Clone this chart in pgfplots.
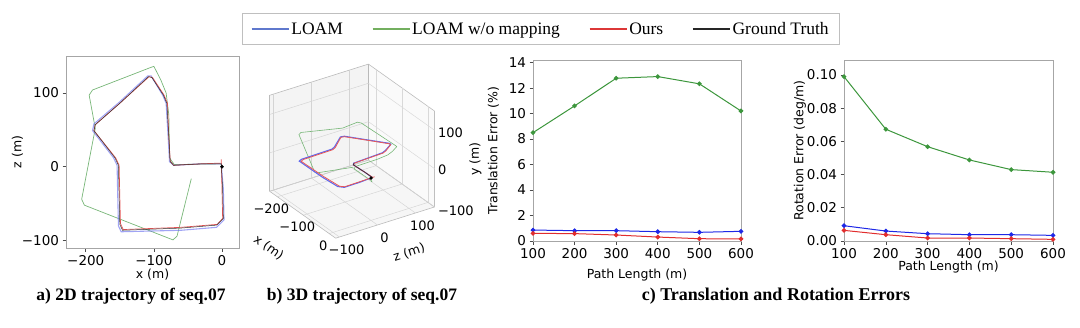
\documentclass[border=0pt]{standalone}
\usepackage{fontspec}
\setmainfont{Liberation Serif}
\newfontfamily\dejavu{DejaVu Sans}
\usepackage{pgfplots}
\pgfplotsset{compat=1.18}
\definecolor{cblue}{RGB}{30,40,230}
\definecolor{cgreen}{RGB}{60,150,60}
\definecolor{cred}{RGB}{225,45,45}
\definecolor{lblue}{RGB}{95,120,205}
\definecolor{lgreen}{RGB}{115,175,95}
\definecolor{lred}{RGB}{220,55,55}
\pgfplotsset{
  base/.style={scale only axis, axis line style={black!35, line width=0.8pt},
    tick style={black!70, line width=0.6pt}, tick align=outside, major tick length=3.5pt,
    xtick pos=bottom, ytick pos=left,
    ticklabel style={font=\dejavu\fontsize{13.5}{14}\selectfont},
    label style={font=\dejavu\fontsize{12.5}{13}\selectfont},
    /pgf/number format/assume math mode=true},
}
\begin{document}
\begin{tikzpicture}[x=1pt,y=1pt]
\path[use as bounding box] (0,0) rectangle (1080,-327);

% ---------- panel a
\begin{axis}[base, at={(66pt,-248pt)}, anchor=south west, width=173pt, height=192pt,
  xmin=-229, xmax=25, ymin=-110, ymax=150,
  xtick={-200,-100,0}, xticklabels={−200,−100,0},
  ytick={-100,0,100}, yticklabels={−100,0,100},
  xlabel={x (m)}, ylabel={z (m)},
  xlabel style={yshift=3pt}, ylabel style={yshift=-8pt}]
\addplot[cgreen!70, line width=0.7pt] coordinates {
(0,0) (-2,4) (-70,3) (-77,12) (-78,70) (-82,100) (-90,118) (-100,136) (-106,134)
(-190,104) (-195,97) (-186,52) (-206,-44) (-202,-52) (-72,-99) (-66,-94) (-45,-16)};
\addplot[cblue!60, line width=1.1pt, opacity=0.7] coordinates {
(0,0) (-1,4) (-30,4) (-71,2) (-77,7) (-79,40) (-82,86) (-87,97) (-104,123) (-109,123)
(-150,88) (-188,58) (-190,49) (-159,12) (-154,2) (-153,-40) (-152,-80) (-148,-88)
(-60,-86) (-8,-82) (3,-72) (2,-30) (-1,2)};
\addplot[cred!80, line width=0.7pt] coordinates {
(0,0) (-1,5) (-30,4) (-71,2) (-76,8) (-78,40) (-80,86) (-85,97) (-102,121) (-107,122)
(-150,86) (-186,57) (-188,49) (-156,12) (-151,2) (-150,-40) (-149,-77) (-145,-85)
(-60,-82) (-7,-78) (1,-70) (0,-30) (-1,10)};
\addplot[black!80, line width=0.5pt] coordinates {
(0,0) (-1,4) (-30,4) (-71,2) (-76,7) (-78,40) (-81,86) (-86,97) (-103,121) (-108,122)
(-150,86) (-186,57) (-188,49) (-157,12) (-152,2) (-151,-40) (-150,-78) (-146,-86)
(-60,-83) (-8,-79) (2,-70) (1,-30) (-1,2)};
\addplot[only marks, mark=*, mark size=1.6pt, black] coordinates {(0,0)};
\end{axis}

% ---------- panel b (3D)
\begin{axis}[at={(371pt,-182pt)}, anchor=origin,
  x={(0.259pt,-0.184pt)}, y={(0.38pt,0.12pt)}, z={(0pt,0.384pt)},
  grid=major, grid style={black!13, line width=0.5pt},
  axis line style={black!25, line width=0.6pt},
  xmin=-230, xmax=25, ymin=-110, ymax=150, zmin=-100, zmax=150,
  xtick={-200,-100,0}, xticklabels={−200,−100,0},
  ytick={-100,0,100}, yticklabels={−100,0,100},
  ztick={-100,0,100}, zticklabels={−100,0,100},
  ticklabel style={font=\dejavu\fontsize{13}{14}\selectfont},
  xticklabel style={anchor=center, xshift=-6pt, yshift=-12pt},
  yticklabel style={anchor=center, xshift=7pt, yshift=-13pt},
  xlabel={x (m)}, ylabel={z (m)}, zlabel={y (m)},
  every axis x label/.style={at={(rel axis cs:0.5,0,0)}, anchor=center, xshift=-34pt, yshift=-33pt, sloped like x axis, font=\dejavu\fontsize{12.5}{13}\selectfont},
  every axis y label/.style={at={(rel axis cs:1,0.5,0)}, anchor=center, xshift=24pt, yshift=-30pt, sloped like y axis, font=\dejavu\fontsize{12.5}{13}\selectfont},
  every axis z label/.style={at={(rel axis cs:1,1,0.5)}, anchor=center, xshift=41pt, rotate=90, font=\dejavu\fontsize{12.5}{13}\selectfont},
  zticklabel pos=right,
  tick style={draw=none}]
\addplot3[fill=black, fill opacity=0.035, draw=none] coordinates {
(-230,-110,-100) (25,-110,-100) (25,150,-100) (-230,150,-100) (-230,-110,-100)};
\addplot3[fill=black, fill opacity=0.045, draw=none] coordinates {
(-230,-110,-100) (-230,150,-100) (-230,150,150) (-230,-110,150) (-230,-110,-100)};
\addplot3[fill=black, fill opacity=0.02, draw=none] coordinates {
(-230,150,-100) (25,150,-100) (25,150,150) (-230,150,150) (-230,150,-100)};
\addplot3[cgreen!70, line width=0.6pt] coordinates {
(0,0,0) (-2,4,0) (-70,3,0) (-77,12,0) (-78,70,0) (-82,100,0) (-90,118,0) (-100,136,2) (-106,134,4)
(-190,104,30) (-195,97,32) (-186,52,35) (-206,-44,44) (-202,-52,43) (-72,-99,22) (-66,-94,22) (-45,-16,22)};
\addplot3[cblue!70, line width=1.1pt] coordinates {
(0,0,10) (-1,4,10) (-30,4,10) (-71,2,10) (-77,7,10) (-79,40,10) (-82,86,10) (-87,97,10) (-104,123,10) (-109,123,10)
(-150,88,11) (-188,58,11) (-190,49,11) (-159,12,11) (-154,2,11) (-153,-40,11) (-152,-80,11) (-148,-88,11)
(-60,-86,10) (-8,-82,10) (3,-72,10) (2,-30,10) (-1,2,10)};
\addplot3[cred!80, line width=0.8pt] coordinates {
(0,0,10) (-1,5,10) (-30,4,10) (-71,2,10) (-76,8,10) (-78,40,10) (-80,86,10) (-85,97,10) (-102,121,10) (-107,122,10)
(-150,86,11) (-186,57,11) (-188,49,11) (-156,12,11) (-151,2,11) (-150,-40,11) (-149,-77,11) (-145,-85,11)
(-60,-82,10) (-7,-78,10) (1,-70,10) (0,-30,10) (-1,10,10)};
\addplot3[black!80, line width=0.6pt] coordinates {
(0,0,10) (-1,4,10) (-30,4,10) (-71,2,10) (-76,7,10)};
\addplot3[only marks, mark=*, mark size=1.4pt, black] coordinates {(0,0,10)};
\end{axis}

% ---------- panel c1
\begin{axis}[base, at={(533pt,-241pt)}, anchor=south west, width=208pt, height=181pt,
  xmin=100, xmax=600, ymin=0, ymax=14.2,
  xtick={100,200,300,400,500,600}, ytick={0,2,4,6,8,10,12,14},
  xlabel={Path Length (m)}, ylabel={Translation Error (\%)},
  xlabel style={yshift=-4pt}, ylabel style={yshift=3pt},
  legend columns=4,
  legend style={at={(0.038,1.171)}, anchor=center, draw=black!25, line width=0.9pt,
    font=\fontsize{17.5}{18}\selectfont, inner xsep=9pt, inner ysep=7pt,
    /tikz/every even column/.append style={column sep=27pt}},
  legend image code/.code={\draw[#1, line width=1.3pt] (0pt,0pt) -- (37pt,0pt);},
  every axis plot/.append style={line width=1pt, mark=*, mark size=1.8pt}]
\addlegendimage{lblue}\addlegendentry{LOAM}
\addlegendimage{lgreen}\addlegendentry{LOAM w/o mapping}
\addlegendimage{lred}\addlegendentry{Ours}
\addlegendimage{black!85}\addlegendentry{Ground Truth}
\addplot[cblue, forget plot] coordinates {(100,0.86) (200,0.81) (300,0.81) (400,0.73) (500,0.68) (600,0.76)};
\addplot[cgreen, forget plot] coordinates {(100,8.5) (200,10.6) (300,12.77) (400,12.9) (500,12.33) (600,10.2)};
\addplot[cred, forget plot] coordinates {(100,0.6) (200,0.58) (300,0.47) (400,0.31) (500,0.18) (600,0.16)};
\end{axis}

% ---------- panel c2
\begin{axis}[base, at={(844pt,-241pt)}, anchor=south west, width=209pt, height=181pt,
  xmin=100, xmax=600, ymin=0, ymax=0.109,
  xtick={100,200,300,400,500,600}, ytick={0,0.02,0.04,0.06,0.08,0.1},
  yticklabels={0.00,0.02,0.04,0.06,0.08,0.10},
  xlabel={Path Length (m)}, ylabel={Rotation Error (deg/m)},
  xlabel style={yshift=4pt}, ylabel style={yshift=-6pt},
  every axis plot/.append style={line width=1pt, mark=*, mark size=1.8pt}]
\addplot[cgreen] coordinates {(100,0.099) (200,0.0673) (300,0.0568) (400,0.0488) (500,0.043) (600,0.0414)};
\addplot[cblue] coordinates {(100,0.0092) (200,0.006) (300,0.0044) (400,0.0038) (500,0.0038) (600,0.0034)};
\addplot[cred] coordinates {(100,0.0064) (200,0.0038) (300,0.0018) (400,0.0018) (500,0.0014) (600,0.001)};
\end{axis}

% ---------- captions
\node[font=\bfseries\fontsize{17.5}{18}\selectfont] at (131,-296) {a) 2D trajectory of seq.07};
\node[font=\bfseries\fontsize{17.5}{18}\selectfont] at (362,-296) {b) 3D trajectory of seq.07};
\node[font=\bfseries\fontsize{18}{18}\selectfont] at (776,-296) {c) Translation and Rotation Errors};
\end{tikzpicture}
\end{document}
